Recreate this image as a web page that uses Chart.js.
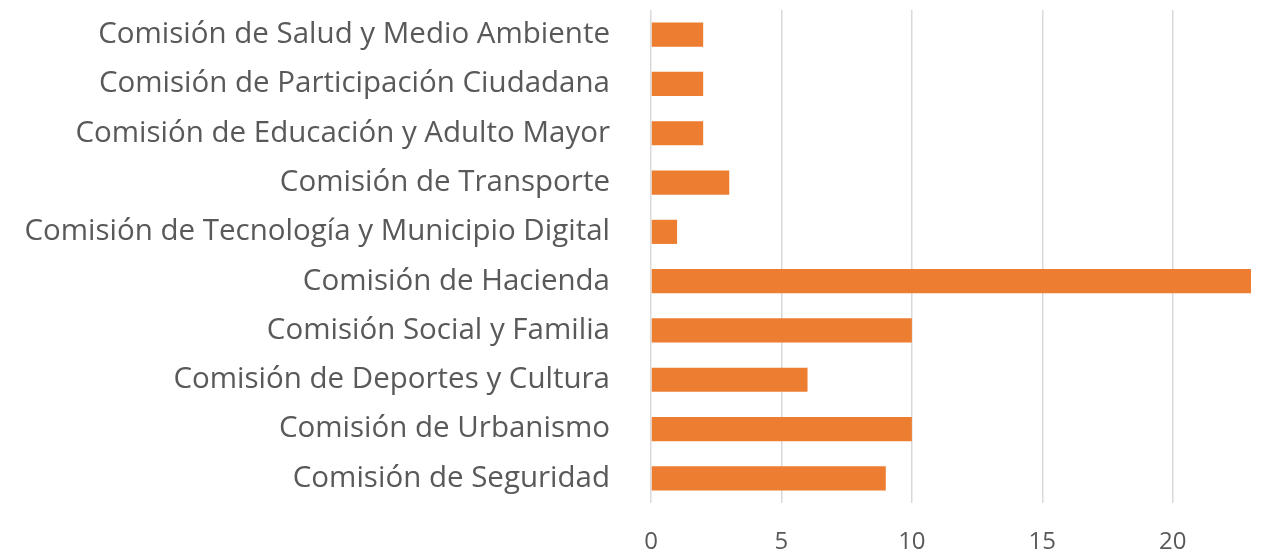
<!DOCTYPE html>
<html>
<head>
<meta charset="utf-8">
<script src="https://cdn.jsdelivr.net/npm/chart.js@4/dist/chart.umd.min.js"></script>
<style>
  html, body { margin: 0; padding: 0; background: #fff; }
  #wrap { width: 1285px; height: 551px; }
</style>
</head>
<body>
<div id="wrap"><canvas id="myChart"></canvas></div>
<script>
var categories = [
    'Comisión de Salud y Medio Ambiente',
    'Comisión de Participación Ciudadana',
    'Comisión de Educación y Adulto Mayor',
    'Comisión de Transporte',
    'Comisión de Tecnología y Municipio Digital',
    'Comisión de Hacienda',
    'Comisión Social y Familia',
    'Comisión de Deportes y Cultura',
    'Comisión de Urbanismo',
    'Comisión de Seguridad'
];
var counts = [2, 2, 2, 3, 1, 23, 10, 6, 10, 9];
var xTicks = [0, 5, 10, 15, 20];

var fontFamily = 'Open Sans';
var textColor = '#595959';
var barColor = '#ED7D31';

var ctx = document.getElementById('myChart').getContext('2d');
new Chart(ctx, {
    type: 'bar',
    data: {
        labels: categories,
        datasets: [{
            data: counts,
            backgroundColor: barColor,
            borderWidth: 0,
            barPercentage: 0.49,
            categoryPercentage: 1.0
        }]
    },
    options: {
        indexAxis: 'y',
        responsive: true,
        maintainAspectRatio: false,
        animation: false,
        layout: { padding: { top: 10, right: 34, bottom: 0, left: 0 } },
        plugins: {
            legend: { display: false },
            tooltip: { enabled: false }
        },
        scales: {
            x: {
                min: 0,
                max: 23,
                afterBuildTicks: function (axis) {
                    axis.ticks = xTicks.map(function (v) { return { value: v }; });
                },
                afterFit: function (axis) { axis.height = 48; },
                grid: { color: '#d9d9d9', lineWidth: 1.5, drawTicks: false },
                border: { display: false },
                ticks: {
                    padding: 25,
                    color: textColor,
                    font: { family: fontFamily, size: 24 }
                }
            },
            y: {
                afterFit: function (axis) {
                    axis.width = 651;
                    // drop the label overhang so the plot can start at the top padding
                    axis.paddingTop = 0;
                    axis.paddingBottom = 0;
                },
                grid: { display: false },
                border: { display: false },
                ticks: {
                    padding: 33,
                    color: textColor,
                    font: { family: fontFamily, size: 29.5 }
                }
            }
        }
    }
});
</script>
</body>
</html>
